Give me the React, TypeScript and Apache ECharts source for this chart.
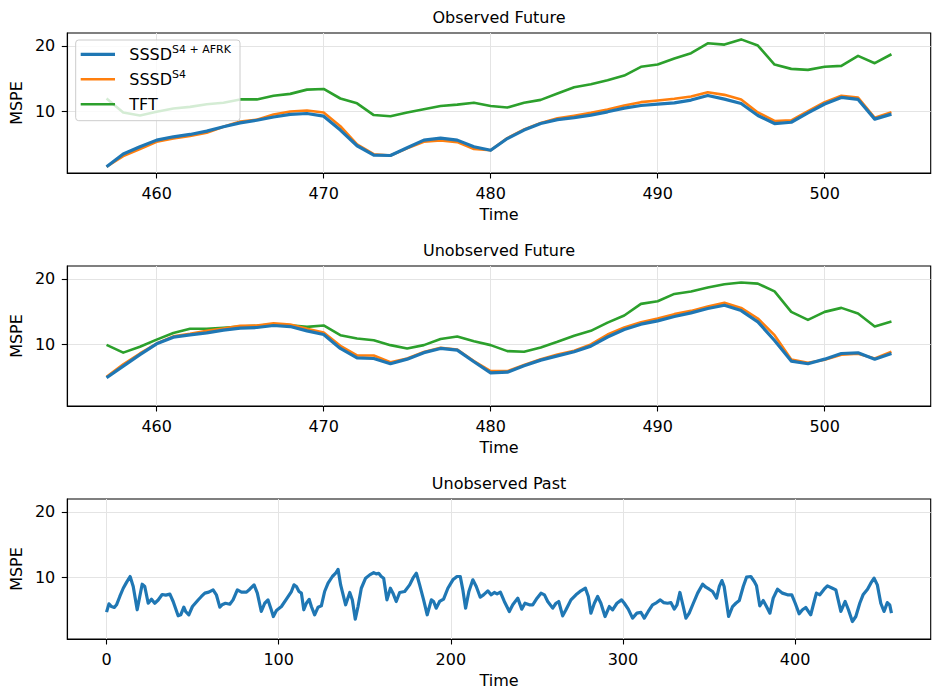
import React, { useEffect, useRef } from "react";
import * as echarts from "echarts";

// ---------- data ----------
const futureTime = [457, 458, 459, 460, 461, 462, 463, 464, 465, 466, 467, 468, 469, 470, 471, 472, 473, 474, 475, 476, 477, 478, 479, 480, 481, 482, 483, 484, 485, 486, 487, 488, 489, 490, 491, 492, 493, 494, 495, 496, 497, 498, 499, 500, 501, 502, 503, 504];

// Observed Future
const obsAFRK = [1.48, 3.42, 4.54, 5.56, 6.07, 6.43, 6.94, 7.6, 8.2, 8.6, 9.1, 9.5, 9.64, 9.23, 7.1, 4.7, 3.27, 3.2, 4.4, 5.56, 5.87, 5.56, 4.54, 4.0, 5.8, 7.1, 8.1, 8.7, 9.0, 9.4, 9.9, 10.46, 10.87, 11.07, 11.28, 11.7, 12.4, 11.84, 11.17, 9.34, 8.1, 8.3, 9.74, 11.1, 12.1, 11.8, 8.78, 9.54];
const obsS4 = [1.48, 3.1, 4.2, 5.3, 5.8, 6.2, 6.7, 7.6, 8.4, 8.7, 9.5, 9.95, 10.1, 9.8, 7.7, 4.9, 3.4, 3.2, 4.3, 5.3, 5.5, 5.25, 4.2, 4.0, 5.87, 7.2, 8.2, 8.9, 9.3, 9.75, 10.26, 10.87, 11.38, 11.63, 11.9, 12.24, 12.9, 12.5, 11.8, 9.8, 8.5, 8.6, 10.0, 11.38, 12.35, 12.1, 8.98, 9.85];
const obsTFT = [11.94, 9.8, 9.34, 9.9, 10.4, 10.66, 11.07, 11.3, 11.8, 11.8, 12.35, 12.65, 13.3, 13.4, 11.94, 11.2, 9.4, 9.23, 9.8, 10.3, 10.8, 11.0, 11.3, 10.8, 10.56, 11.28, 11.73, 12.7, 13.67, 14.13, 14.74, 15.46, 16.8, 17.14, 18.06, 18.88, 20.4, 20.2, 21.0, 20.05, 17.14, 16.48, 16.33, 16.8, 16.94, 18.47, 17.35, 18.72];

// Unobserved Future
const unobsAFRK = [4.85, 6.63, 8.4, 10.05, 11.07, 11.43, 11.73, 12.14, 12.45, 12.55, 12.86, 12.7, 12.04, 11.48, 9.34, 7.9, 7.8, 7.0, 7.7, 8.7, 9.34, 9.08, 7.3, 5.6, 5.7, 6.68, 7.55, 8.2, 8.83, 9.7, 11.1, 12.24, 13.06, 13.57, 14.23, 14.8, 15.46, 15.97, 15.15, 13.42, 10.56, 7.4, 7.0, 7.7, 8.57, 8.67, 7.7, 8.57];
const unobsS4 = [5.0, 6.9, 8.57, 10.1, 11.2, 11.58, 12.04, 12.4, 12.8, 12.86, 13.2, 13.0, 12.35, 11.8, 9.75, 8.27, 8.27, 7.24, 7.8, 8.8, 9.44, 9.18, 7.4, 5.87, 5.87, 6.8, 7.7, 8.4, 9.0, 9.95, 11.48, 12.55, 13.37, 13.93, 14.6, 15.1, 15.77, 16.33, 15.56, 13.93, 11.38, 7.65, 7.14, 7.6, 8.37, 8.52, 7.8, 8.83];
const unobsTFT = [9.9, 8.7, 9.6, 10.7, 11.7, 12.35, 12.35, 12.5, 12.7, 12.8, 13.06, 12.9, 12.65, 12.86, 11.38, 10.87, 10.6, 9.85, 9.34, 9.85, 10.8, 11.17, 10.46, 9.85, 8.93, 8.83, 9.5, 10.36, 11.3, 12.04, 13.3, 14.4, 16.17, 16.58, 17.7, 18.06, 18.67, 19.18, 19.44, 19.28, 18.1, 14.95, 13.72, 14.95, 15.56, 14.7, 12.7, 13.47];

// Unobserved Past
const pastTime = [
  0, 1.4, 2.9, 4.5, 5.8, 7.7, 9.7, 11.6, 13.7, 15.5, 17.8, 19.3, 20.7, 22.2, 24.2, 26.1, 28, 30, 32.3, 34.4, 36.8, 38.7, 41.6, 43.1, 44.9, 46, 47.8, 49.9, 53.2, 55.1, 57.1, 59.4, 61.9, 63.8, 65.8, 67.1, 69.1, 71.6, 73.5, 76, 78.4, 81.3, 83.2, 85.7, 87.6, 89.9, 91.9, 93.8, 95.4, 96.9, 98.7, 101.6, 104.5, 107.4, 108.9,
  110.3, 111.8, 113.2, 114.6, 116.1, 117.7, 119, 120.9, 122.9, 124.8, 126.7, 128.7, 131.2, 133.1, 134.5, 136, 138.9, 141.3, 142.8, 144.5, 146.1, 148, 150.5, 152.9, 155.2, 156.7, 158.1, 159.6, 161, 162.9, 164.9, 166.4, 168.3, 170.3, 173.2, 176.1, 178, 180, 181.9, 184.2, 186.3, 188.7, 190, 191.5, 193.5, 195.8, 198.3, 201.2, 203.6, 205.5, 207, 208.6, 210.5, 212.8, 214.8, 217.1, 219, 221.5, 223.5,
  225.3, 226.9, 228.8, 231.1, 234, 236, 238.9, 241.2, 243.1, 245.6, 247.6, 250.1, 252.4, 254.4, 256.3, 259.2, 261.1, 262.7, 265, 266.9, 269.8, 272.7, 275.6, 278.2, 279.9, 281.4, 283.4, 285.3, 287.2, 289.6, 292.1, 294, 296.5, 299.2, 300.8, 303.1, 305.6, 308.1, 310.5, 312.4, 314.7, 317.2, 319.6, 321.7, 323.6, 325.9, 327.9, 329.8, 331.4, 333.1, 334.6, 336.6,
  338.5, 340.9, 343.4, 346.3, 348.2, 350.1, 352.1, 354.4, 356, 357.5, 358.8, 361.4, 363.7, 365.6, 367.6, 369.9, 371.8, 374.3, 376.3, 377.6, 379.5, 381.5, 383.4, 385.4, 387.3, 389.8, 392.7, 395.6, 398.1, 400.1, 402.4, 404.3, 406.2, 409.1, 411.1, 412.4, 414.4, 416.9, 418.8, 421.7, 423.7, 426.6, 429.1, 431, 433.3, 435.3, 437.6, 439.5, 442.1, 444, 445.9, 447.8, 449.8, 451.7, 453.6, 455, 456,
];
const pastAFRK = [
  4.64, 5.9, 5.5, 5.35, 5.76, 7.04, 8.3, 9.2, 10.1, 8.57, 5.0, 7.04, 8.92, 8.57, 6.0, 6.63, 6.0, 6.5, 7.34, 7.24, 7.4, 6.27, 4.08, 4.23, 5.4, 4.7, 4.23, 5.5, 6.5, 7.04, 7.55, 7.7, 8.05, 7.3, 5.4, 5.76, 6.0, 5.85, 6.52, 8.05, 7.7, 7.7, 8.15, 8.82, 7.55, 4.74, 6.0, 6.5, 5.25, 3.97, 4.9, 5.5, 6.63, 7.8, 8.82,
  8.57, 7.8, 7.55, 5.0, 6.0, 6.6, 5.5, 4.23, 5.4, 5.6, 7.8, 9.08, 10.1, 10.6, 11.2, 8.8, 5.76, 7.65, 6.5, 3.56, 5.5, 8.3, 9.84, 10.35, 10.7, 10.5, 10.6, 10.1, 9.84, 6.52, 8.3, 7.55, 6.27, 7.65, 7.8, 8.82, 9.84, 10.6, 8.82, 6.52, 4.23, 6.52, 6.27, 5.25, 6.27, 6.63, 8.3, 9.59, 10.1, 10.1, 8.05, 5.25, 7.8, 9.59, 8.57, 6.93, 7.29, 7.9, 7.29,
  7.65, 7.44, 7.7, 6.27, 4.74, 5.76, 6.78, 5.1, 6.0, 5.76, 5.76, 6.78, 7.55, 7.29, 6.27, 5.25, 6.0, 6.27, 4.07, 5.0, 6.52, 7.29, 7.9, 8.31, 7.04, 4.48, 6.0, 7.04, 6.0, 3.97, 5.5, 5.0, 6.0, 6.52, 6.0, 5.1, 3.72, 4.48, 4.59, 3.72, 4.74, 5.76, 6.1, 6.52, 6.1, 6.0, 6.1, 5.1, 5.76, 7.65, 6.0, 3.72,
  4.48, 6.0, 7.55, 8.92, 8.46, 8.15, 7.8, 6.78, 8.57, 9.48, 8.57, 3.97, 5.5, 6.0, 6.42, 8.57, 10.0, 10.1, 9.33, 8.67, 5.6, 6.42, 5.5, 4.48, 6.78, 8.15, 7.55, 7.29, 7.29, 6.0, 4.38, 5.0, 5.35, 4.23, 6.27, 7.55, 7.29, 8.15, 8.67, 8.31, 8.05, 4.74, 6.27, 5.0, 3.2, 3.97, 6.0, 7.29, 8.15, 9.08, 9.84, 8.82, 6.0, 4.74, 6.1, 5.76, 4.48,
];

const subplotTitles = ["Observed Future", "Unobserved Future", "Unobserved Past"];
const futureTicks = [460, 470, 480, 490, 500];
const pastTicks = [0, 100, 200, 300, 400];
const yTicks = [10, 20];

// ---------- styling ----------
const FONT = "DejaVu Sans";
const BLUE = "#1f77b4";
const ORANGE = "#ff7f0e";
const GREEN = "#2ca02c";
const GRID_LEFT = 67.3;
const GRID_RIGHT = 5.3;
const GRID_TOPS = [33, 266, 499];
const GRID_H = 140;

function makeX(gridIndex: number, min: number, max: number, ticks: number[]) {
  return {
    type: "value",
    gridIndex,
    min,
    max,
    axisLine: { show: true, onZero: false, lineStyle: { color: "#000", width: 1.1 } },
    axisTick: { show: true, length: 5.5, lineStyle: { color: "#000", width: 1.1 }, customValues: ticks },
    axisLabel: { show: true, margin: 12, color: "#000", fontSize: 16, fontFamily: FONT, customValues: ticks },
    splitLine: { show: true, lineStyle: { color: "#e4e4e4", width: 1 } },
    name: "Time",
    nameLocation: "middle",
    nameGap: 33,
    nameTextStyle: { color: "#000", fontSize: 16, fontFamily: FONT },
  };
}

function makeY(gridIndex: number) {
  return {
    type: "value",
    gridIndex,
    min: 0.52,
    max: 21.98,
    axisLine: { show: true, onZero: false, lineStyle: { color: "#000", width: 1.1 } },
    axisTick: { show: true, length: 5.5, lineStyle: { color: "#000", width: 1.1 }, customValues: yTicks },
    axisLabel: { show: true, margin: 12, color: "#000", fontSize: 16, fontFamily: FONT, customValues: yTicks },
    splitLine: { show: true, lineStyle: { color: "#e4e4e4", width: 1 } },
    name: "MSPE",
    nameLocation: "middle",
    nameGap: 40,
    nameTextStyle: { color: "#000", fontSize: 16, fontFamily: FONT },
  };
}

function line(name: string, idx: number, xs: number[], ys: number[], color: string, width: number, z: number) {
  return {
    type: "line",
    name,
    xAxisIndex: idx,
    yAxisIndex: idx,
    data: xs.map((x, i) => [x, ys[i]]),
    symbol: "none",
    showSymbol: false,
    z,
    lineStyle: { color, width, join: "round", cap: "butt" },
    itemStyle: { color },
  };
}

export default function App() {
  const ref = useRef<HTMLDivElement>(null);

  useEffect(() => {
    if (!ref.current) return;
    const chart = echarts.init(ref.current, undefined, { renderer: "svg" });

    const legendRows = [
      { text: "{b|SSSD}{sup|S4 + AFRK}", color: BLUE, width: 3.2 },
      { text: "{b|SSSD}{sup|S4}", color: ORANGE, width: 2.6 },
      { text: "{b|TFT}", color: GREEN, width: 2.6 },
    ];
    const rowY = [54.3, 79.3, 104.3];
    const legendEls: any[] = [
      {
        type: "rect",
        z: 100,
        shape: { x: 75.7, y: 40, width: 164.3, height: 80.7, r: 3 },
        style: { fill: "rgba(255,255,255,0.8)", stroke: "#cccccc", lineWidth: 1 },
      },
    ];
    legendRows.forEach((r, i) => {
      legendEls.push({
        type: "line",
        z: 101,
        shape: { x1: 80.7, y1: rowY[i], x2: 115, y2: rowY[i] },
        style: { stroke: r.color, lineWidth: r.width },
      });
      legendEls.push({
        type: "text",
        z: 101,
        x: 129.3,
        y: rowY[i],
        style: {
          text: r.text,
          fill: "#000",
          align: "left",
          verticalAlign: "middle",
          rich: {
            b: { fontSize: 16, fontFamily: FONT, lineHeight: 20, fill: "#000", color: "#000" },
            sup: { fontSize: 11, fontFamily: FONT, lineHeight: 13, verticalAlign: "top", fill: "#000", color: "#000" },
          },
        },
      });
    });

    const titleEls = subplotTitles.map((t, i) => ({
      type: "text",
      z: 50,
      x: (GRID_LEFT + (936 - GRID_RIGHT)) / 2,
      y: GRID_TOPS[i] - 16,
      style: {
        text: t,
        fill: "#000",
        fontSize: 16,
        fontFamily: FONT,
        align: "center",
        verticalAlign: "middle",
      },
    }));

    const option: any = {
      animation: false,
      backgroundColor: "#ffffff",
      grid: GRID_TOPS.map((top) => ({
        left: GRID_LEFT,
        right: GRID_RIGHT,
        top,
        height: GRID_H,
        show: true,
        borderColor: "#000",
        borderWidth: 1.1,
        backgroundColor: "rgba(0,0,0,0)",
        containLabel: false,
      })),
      xAxis: [
        makeX(0, 454.65, 506.35, futureTicks),
        makeX(1, 454.65, 506.35, futureTicks),
        makeX(2, -22.8, 478.8, pastTicks),
      ],
      yAxis: [makeY(0), makeY(1), makeY(2)],
      series: [
        line("TFT", 0, futureTime, obsTFT, GREEN, 2.6, 2),
        line("SSSD S4", 0, futureTime, obsS4, ORANGE, 2.6, 3),
        line("SSSD S4+AFRK", 0, futureTime, obsAFRK, BLUE, 3.2, 4),
        line("TFT", 1, futureTime, unobsTFT, GREEN, 2.6, 2),
        line("SSSD S4", 1, futureTime, unobsS4, ORANGE, 2.6, 3),
        line("SSSD S4+AFRK", 1, futureTime, unobsAFRK, BLUE, 3.2, 4),
        line("SSSD S4+AFRK", 2, pastTime, pastAFRK, BLUE, 3.2, 4),
      ],
      graphic: [...titleEls, ...legendEls],
    };

    chart.setOption(option);
    return () => chart.dispose();
  }, []);

  return (
    <div
      ref={ref}
      style={{ position: "absolute", left: 0, top: 0, width: 936, height: 698, background: "#fff" }}
    />
  );
}
